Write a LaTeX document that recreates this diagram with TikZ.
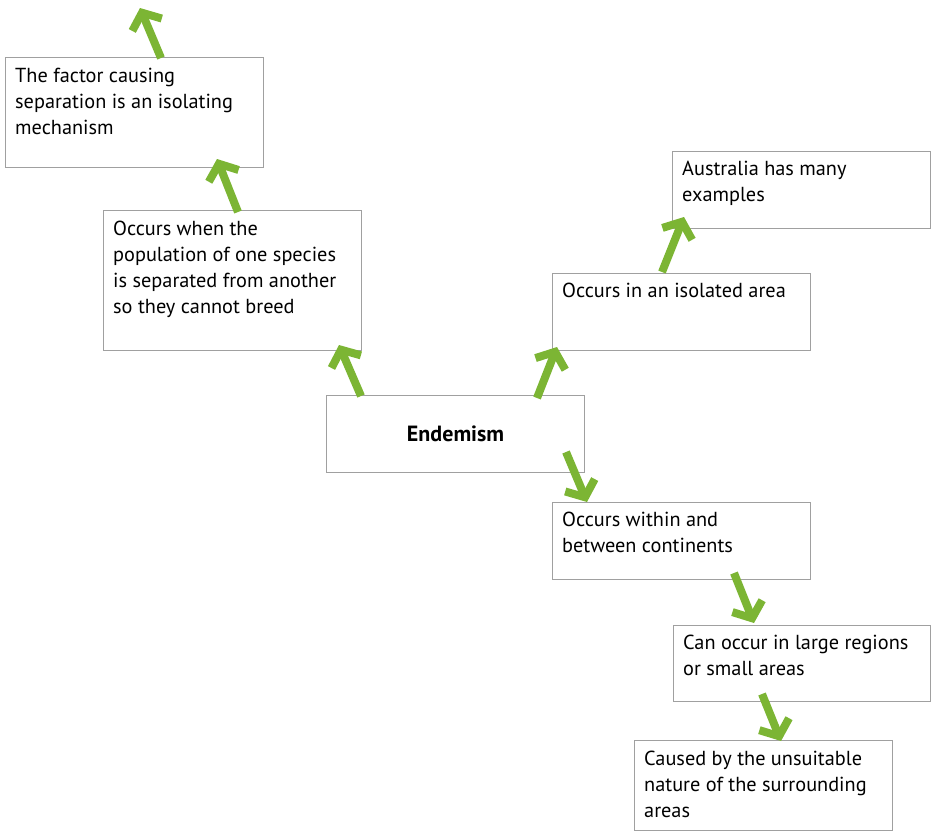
\documentclass[tikz,border=0pt]{standalone}
\usepackage{fontspec}
\setmainfont{PT Sans}
\usetikzlibrary{arrows.meta}
\definecolor{arrowgreen}{RGB}{124,181,52}
\definecolor{boxgrey}{RGB}{160,160,160}
\tikzset{
  box/.style={draw=boxgrey, line width=1.1pt, fill=white, rectangle, inner sep=0pt, anchor=north west, minimum width=258pt},
  txt/.style={anchor=north west, inner sep=0pt, align=left, font=\fontsize{20.3}{26}\selectfont},
  greenarrow/.style={draw=arrowgreen, line width=8pt, -{Straight Barb[length=13pt,width=32pt]}}
}
\begin{document}
\begin{tikzpicture}[x=1pt,y=-1pt]
\useasboundingbox (0,0) rectangle (933,831);
% boxes
\node[box, minimum height=110pt] (b1) at (5,57) {};
\node[box, minimum height=140pt] (b2) at (103,210) {};
\node[box, minimum height=77pt] (b3) at (326,395) {};
\node[box, minimum height=77pt] (b4) at (552,273) {};
\node[box, minimum height=77pt] (b5) at (672,151) {};
\node[box, minimum height=77pt] (b6) at (552,502) {};
\node[box, minimum height=76pt, minimum width=257pt] (b7) at (673,625) {};
\node[box, minimum height=90pt] (b8) at (634,740) {};
% texts
\node[txt] (t1) at (15,68) {The factor causing\\separation is an isolating\\mechanism};
\node[txt] (t2) at (113,221) {Occurs when the\\population of one species\\is separated from another\\so they cannot breed};
\node[font=\fontsize{22}{26}\selectfont\bfseries] (t3) at (b3.center) {Endemism};
\node[txt] (t4) at (562,283) {Occurs in an isolated area};
\node[txt] (t5) at (682,161) {Australia has many\\examples};
\node[txt] (t6) at (562,512) {Occurs within and\\between continents};
\node[txt] (t7) at (683,635) {Can occur in large regions\\or small areas};
\node[txt] (t8) at (644,751) {Caused by the unsuitable\\nature of the surrounding\\areas};
% arrow end points
\coordinate (a1s) at (161,58);  \coordinate (a1e) at (140,8);
\coordinate (a2s) at (238,212); \coordinate (a2e) at (217,159);
\coordinate (a3s) at (361,396); \coordinate (a3e) at (339,345);
\coordinate (a4s) at (537,398); \coordinate (a4e) at (557,347);
\coordinate (a5s) at (662,272); \coordinate (a5e) at (684,217);
\coordinate (a6s) at (566,452); \coordinate (a6e) at (587,502);
\coordinate (a7s) at (734,573); \coordinate (a7e) at (754,623);
\coordinate (a8s) at (762,694); \coordinate (a8e) at (781,741);
\foreach \i in {1,...,8} {\draw[greenarrow] (a\i s) -- (a\i e);}
\end{tikzpicture}
\end{document}
